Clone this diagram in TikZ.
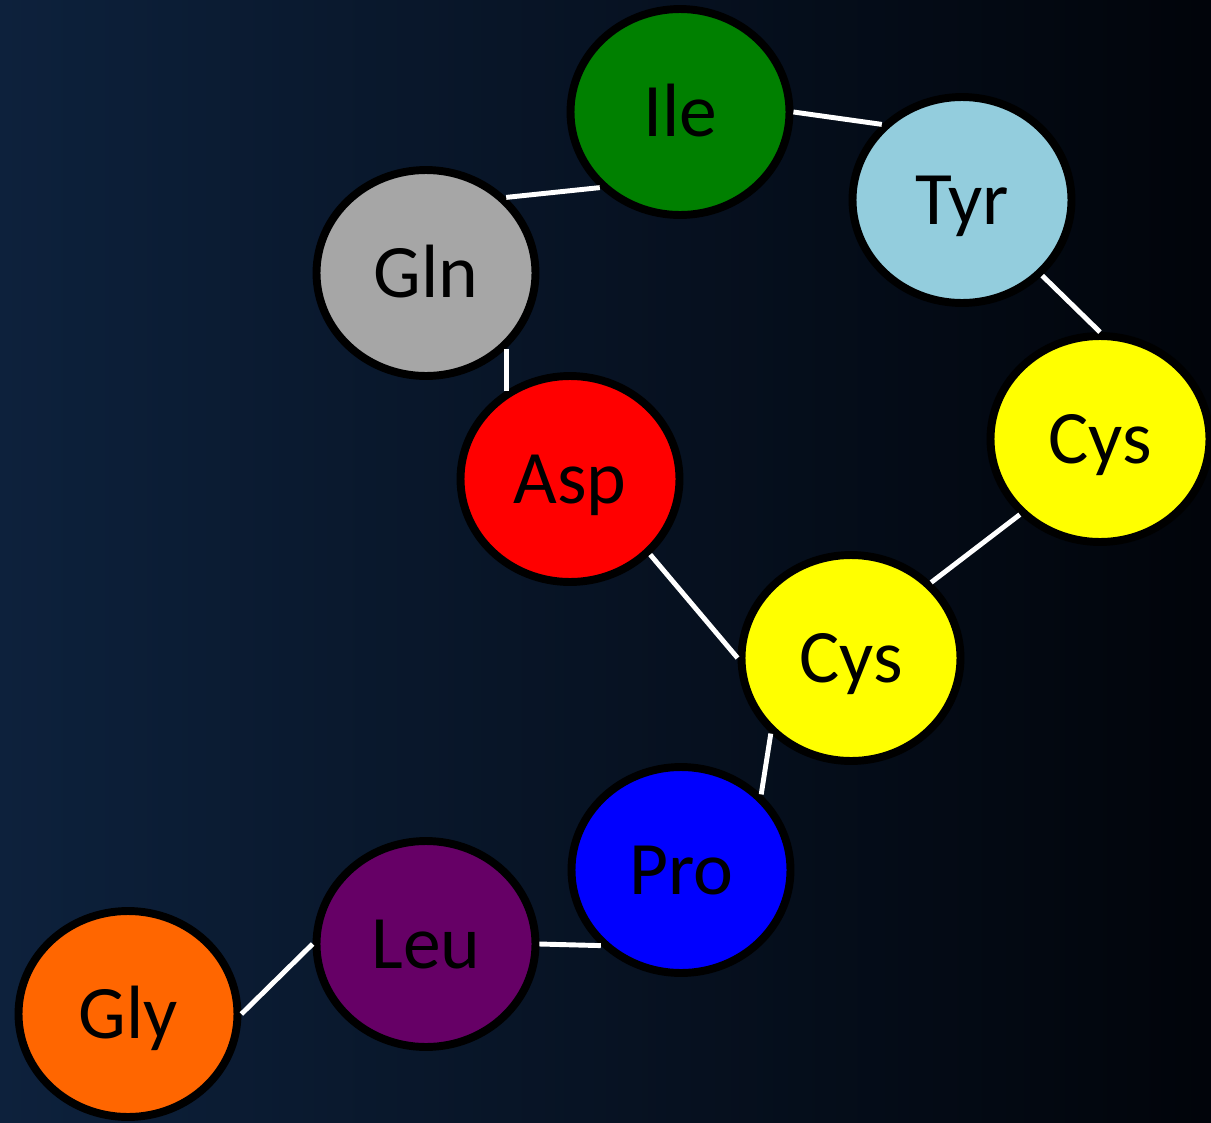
\documentclass[tikz,border=0pt]{standalone}
\usepackage{fontspec}
\setmainfont{Carlito}
\usetikzlibrary{shapes.geometric}

\definecolor{bgleft}{HTML}{0D213C}
\definecolor{bgmid}{HTML}{08162B}
\definecolor{bgright}{HTML}{01040A}
\definecolor{ilegreen}{HTML}{008000}
\definecolor{tyrblue}{HTML}{93CDDD}
\definecolor{glngray}{HTML}{A6A6A6}
\definecolor{cysyellow}{HTML}{FFFF00}
\definecolor{aspred}{HTML}{FF0000}
\definecolor{problue}{HTML}{0000FF}
\definecolor{leupurple}{HTML}{660066}
\definecolor{glyorange}{HTML}{FF6600}

\begin{document}
\begin{tikzpicture}[x=0.02cm,y=-0.02cm,every node/.style={font=\fontsize{43}{52}\selectfont},
  res/.style={ellipse,draw=black,line width=4.5pt,outer sep=2.25pt,inner sep=0pt,
    minimum width=4.38cm,minimum height=4.12cm,text height=27.7pt,text depth=0pt},
  bond/.style={draw=white,line width=2.8pt}]
  \useasboundingbox (0,0) rectangle (1211,1123);
  \shade[left color=bgleft,middle color=bgmid,right color=bgright] (0,0) rectangle (1211,1123);
  \node[res,fill=ilegreen] (ile) at (680,112) {Ile};
  \node[res,fill=tyrblue] (tyr) at (962,200) {Tyr};
  \node[res,fill=glngray] (gln) at (426,273) {Gln};
  \node[res,fill=cysyellow] (cysa) at (1100,439) {Cys};
  \node[res,fill=aspred] (asp) at (570,479) {Asp};
  \node[res,fill=cysyellow] (cysb) at (851,658) {Cys};
  \node[res,fill=problue] (pro) at (681,870) {Pro};
  \node[res,fill=leupurple] (leu) at (426,944) {Leu};
  \node[res,fill=glyorange] (gly) at (128,1014) {Gly};
  \draw[bond] (gln.north east)--(ile.south west); \draw[bond] (ile.east)--(tyr.north west);
  \draw[bond] (tyr.south east)--(cysa.north); \draw[bond] (cysa.south west)--(cysb.north east);
  \draw[bond] (gln.south east)--(gln.south east |- asp.126); \draw[bond] (asp.south east)--(cysb.west);
  \draw[bond] (cysb.south west)--(pro.north east); \draw[bond] (pro.south west)--(leu.east);
  \draw[bond] (leu.west)--(gly.east);
\end{tikzpicture}
\end{document}
